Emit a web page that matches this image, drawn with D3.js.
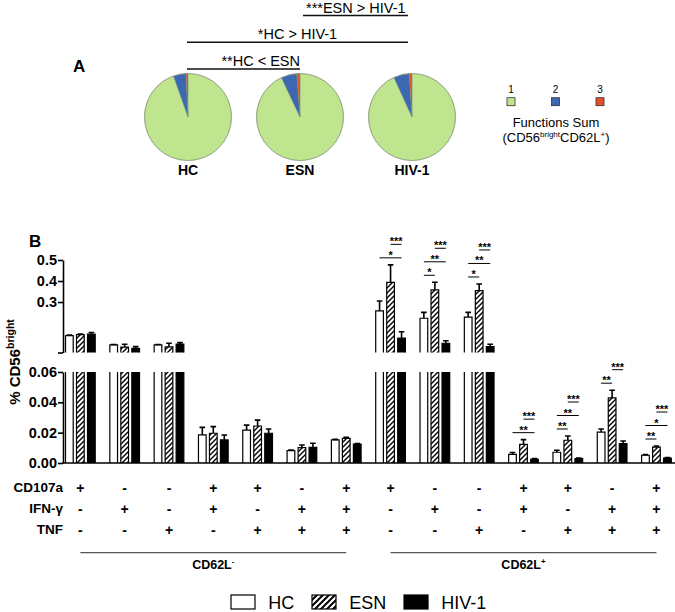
<!DOCTYPE html>
<html>
<head>
<meta charset="utf-8">
<script src="https://cdn.jsdelivr.net/npm/d3@7"></script>
<style>
  html, body { margin: 0; padding: 0; background: #fff; }
  svg { display: block; }
  text { font-family: "Liberation Sans", Arial, sans-serif; }
</style>
</head>
<body>
<svg id="chart" width="675" height="612"></svg>
<script>
// ---------------- DATA ----------------
// Panel A: function-sum pies
const pieGroups = ["HC", "ESN", "HIV-1"];
const pieFunctions = ["1", "2", "3"];
const pieHC  = [0.946, 0.047, 0.007];
const pieESN = [0.930, 0.058, 0.012];
const pieHIV = [0.932, 0.058, 0.010];
const pieComparisons = [
  { a: "HC",  b: "ESN",   label: "**HC < ESN" },
  { a: "HC",  b: "HIV-1", label: "*HC > HIV-1" },
  { a: "ESN", b: "HIV-1", label: "***ESN > HIV-1" }
];

// Panel B: categories (14 combinations)
const subsets = ["CD62L-","CD62L-","CD62L-","CD62L-","CD62L-","CD62L-","CD62L-",
                 "CD62L+","CD62L+","CD62L+","CD62L+","CD62L+","CD62L+","CD62L+"];
const rowLabels = ["CD107a", "IFN-γ", "TNF"];
const cd107a = ["+","-","-","+","+","-","+","+","-","-","+","+","-","+"];
const ifng   = ["-","+","-","+","-","+","+","-","+","-","+","-","+","+"];
const tnf    = ["-","-","+","-","+","+","+","-","-","+","-","+","+","+"];
const series = ["HC", "ESN", "HIV-1"];

const hcValues  = [0.140, 0.096, 0.096, 0.0185, 0.0217, 0.0081, 0.0152, 0.258, 0.223, 0.228, 0.0057, 0.0071, 0.0204, 0.0051];
const esnValues = [0.145, 0.086, 0.087, 0.0196, 0.0244, 0.0101, 0.0163, 0.394, 0.358, 0.354, 0.0123, 0.0150, 0.0429, 0.0105];
const hivValues = [0.147, 0.080, 0.100, 0.0152, 0.0196, 0.0103, 0.0125, 0.128, 0.104, 0.088, 0.0024, 0.0029, 0.0128, 0.0033];
const hcSem  = [0.003, 0.002, 0.002, 0.0050, 0.0033, 0.0004, 0.0004, 0.047, 0.028, 0.023, 0.0012, 0.0013, 0.0020, 0.0004];
const esnSem = [0.003, 0.013, 0.017, 0.0044, 0.0039, 0.0018, 0.0007, 0.083, 0.036, 0.032, 0.0031, 0.0028, 0.0051, 0.0007];
const hivSem = [0.008, 0.008, 0.007, 0.0033, 0.0028, 0.0027, 0.0003, 0.031, 0.012, 0.011, 0.0005, 0.0004, 0.0017, 0.0003];

const upperTicks = [0.3, 0.4, 0.5];
const lowerTicks = [0.00, 0.02, 0.04, 0.06];

// significance comparisons: [group index, series a, series b, label], bottom to top
const sigMarks = [
  [7, "HC", "HIV-1", "*"],  [7, "ESN", "HIV-1", "***"],
  [8, "HC", "ESN", "*"],    [8, "HC", "HIV-1", "**"],  [8, "ESN", "HIV-1", "***"],
  [9, "HC", "ESN", "*"],    [9, "HC", "HIV-1", "**"],  [9, "ESN", "HIV-1", "***"],
  [10, "HC", "HIV-1", "**"],[10, "ESN", "HIV-1", "***"],
  [11, "HC", "ESN", "**"],  [11, "HC", "HIV-1", "**"], [11, "ESN", "HIV-1", "***"],
  [12, "HC", "ESN", "**"],  [12, "ESN", "HIV-1", "***"],
  [13, "HC", "ESN", "**"],  [13, "HC", "HIV-1", "*"],  [13, "ESN", "HIV-1", "***"]
];

// ---------------- DRAWING ----------------
const svg = d3.select("#chart");
svg.append("rect").attr("width", 675).attr("height", 612).attr("fill", "#fff");

const defs = svg.append("defs");
function hatch(id, size, sw) {
  const p = defs.append("pattern").attr("id", id).attr("patternUnits", "userSpaceOnUse")
    .attr("width", size).attr("height", size);
  p.append("rect").attr("width", size).attr("height", size).attr("fill", "#fff");
  p.append("path")
    .attr("d", `M${-size/2},${size/2} L${size/2},${-size/2} M0,${size} L${size},0 M${size/2},${size*1.5} L${size*1.5},${size/2}`)
    .attr("stroke", "#000").attr("stroke-width", sw);
}
hatch("hatch", 5, 1.4);
hatch("hatchLegend", 6, 2);

const FONT = '"Liberation Sans", Arial, sans-serif';

// ===== Panel A =====
const pieColors = d3.scaleOrdinal().domain(pieFunctions).range(["#bfe68f", "#3c67b1", "#e5502a"]);
const pieX = d3.scalePoint().domain(pieGroups).range([188, 412]);
const pieY = 117;
const pieR = 43.5;
const pieData = { "HC": pieHC, "ESN": pieESN, "HIV-1": pieHIV };
const pieGen = d3.pie().sort(null).value(d => d.v);
const arcGen = d3.arc().innerRadius(0).outerRadius(pieR);

svg.append("text").attr("x", 73).attr("y", 72).attr("font-size", 17).attr("font-weight", "bold").text("A");

pieGroups.forEach(g => {
  const gg = svg.append("g").attr("transform", `translate(${pieX(g)},${pieY})`);
  const arcs = pieGen(pieFunctions.map((f, i) => ({ f, v: pieData[g][i] })));
  gg.selectAll("path").data(arcs).join("path")
    .attr("d", arcGen).attr("fill", d => pieColors(d.data.f))
    .attr("stroke", "#7f8f70").attr("stroke-width", 0.4);
  gg.append("circle").attr("r", pieR).attr("fill", "none").attr("stroke", "#8a9a7e").attr("stroke-width", 0.7);
  svg.append("text").attr("x", pieX(g)).attr("y", 175).attr("text-anchor", "middle")
    .attr("font-size", 14).attr("font-weight", "bold").text(g);
});

// pie comparison lines
const compLineY = [69, 42.3, 15.5];
const compAnchor = ["end", "middle", "start"];
pieComparisons.forEach((c, i) => {
  const x2 = pieX(c.b) - (c.b === "HIV-1" ? 4 : 0);
  const xs = c.a === "ESN" ? pieX(c.a) + 3 : pieX(c.a) - 1;
  svg.append("line").attr("x1", xs).attr("x2", x2).attr("y1", compLineY[i]).attr("y2", compLineY[i])
    .attr("stroke", "#111").attr("stroke-width", 1.4);
  const tx = compAnchor[i] === "end" ? x2 : compAnchor[i] === "start" ? xs + 3 : (xs + x2) / 2;
  svg.append("text").attr("x", tx).attr("y", compLineY[i] - 3).attr("text-anchor", compAnchor[i])
    .attr("font-size", 14.5).text(c.label);
});

// pie legend
const legX = d3.scalePoint().domain(pieFunctions).range([511, 600]);
pieFunctions.forEach(f => {
  svg.append("text").attr("x", legX(f)).attr("y", 93).attr("text-anchor", "middle").attr("font-size", 10).text(f);
  svg.append("rect").attr("x", legX(f) - 4).attr("y", 97.7).attr("width", 8).attr("height", 8)
    .attr("fill", pieColors(f)).attr("stroke", "#333").attr("stroke-width", 0.8);
});
svg.append("text").attr("x", 556).attr("y", 127).attr("text-anchor", "middle").attr("font-size", 13).text("Functions Sum");
const fsub = svg.append("text").attr("x", 556).attr("y", 141.5).attr("text-anchor", "middle").attr("font-size", 13);
fsub.append("tspan").text("(CD56");
fsub.append("tspan").attr("font-size", 8).attr("dy", -5).text("bright");
fsub.append("tspan").attr("dy", 5).text("CD62L");
fsub.append("tspan").attr("font-size", 8).attr("dy", -5).text("+");
fsub.append("tspan").attr("dy", 5).text(")");

// ===== Panel B =====
svg.append("text").attr("x", 29).attr("y", 247).attr("font-size", 17).attr("font-weight", "bold").text("B");

const BREAK = 0.06;
const yUp = d3.scaleLinear().domain([BREAK, 0.5]).range([352.5, 260]);
const yLo = d3.scaleLinear().domain([0, BREAK]).range([463, 372]);
const x0 = d3.scaleBand().domain(d3.range(subsets.length)).range([63.3, 673.5]).paddingInner(0.33).paddingOuter(0.05);
const x1 = d3.scaleBand().domain(series).range([0, x0.bandwidth()]).paddingInner(0.3);

const valuesBy = { "HC": hcValues, "ESN": esnValues, "HIV-1": hivValues };
const semBy = { "HC": hcSem, "ESN": esnSem, "HIV-1": hivSem };
const fillBy = { "HC": "#fff", "ESN": "url(#hatch)", "HIV-1": "#000" };
const yOf = v => v > BREAK ? yUp(v) : yLo(v);

const bars = svg.append("g");
subsets.forEach((s, gi) => {
  series.forEach(se => {
    const v = valuesBy[se][gi];
    const x = x0(gi) + x1(se), w = x1.bandwidth();
    const vl = Math.min(v, BREAK);
    const yt = yLo(vl), yb = yLo(0);
    bars.append("rect").attr("x", x).attr("y", yt).attr("width", w).attr("height", yb - yt).attr("fill", fillBy[se]);
    bars.append("path")
      .attr("d", v > BREAK ? `M${x},${yb}V${yt}M${x + w},${yt}V${yb}` : `M${x},${yb}V${yt}H${x + w}V${yb}`)
      .attr("fill", "none").attr("stroke", "#000").attr("stroke-width", 1.2);
    if (v > BREAK) {
      const ut = yUp(v), ub = yUp(BREAK);
      bars.append("rect").attr("x", x).attr("y", ut).attr("width", w).attr("height", ub - ut).attr("fill", fillBy[se]);
      bars.append("path").attr("d", `M${x},${ub}V${ut}H${x + w}V${ub}`)
        .attr("fill", "none").attr("stroke", "#000").attr("stroke-width", 1.2);
    }
    // error bar (upper)
    const e = v + semBy[se][gi];
    const cx = x + w / 2;
    bars.append("path").attr("d", `M${cx},${yOf(v)}V${yOf(e)}M${cx - 2.8},${yOf(e)}H${cx + 2.8}`)
      .attr("fill", "none").attr("stroke", "#000").attr("stroke-width", 1.6);
  });
});

// axes
function styleAxis(g) {
  g.select(".domain").attr("stroke-width", 1.6);
  g.selectAll(".tick line").attr("stroke-width", 1.6);
  g.selectAll(".tick text").attr("font-size", 14.5).attr("font-weight", "bold").attr("font-family", FONT).attr("fill", "#000");
}
const axU = svg.append("g").attr("transform", "translate(63,0)")
  .call(d3.axisLeft(yUp).tickValues([BREAK].concat(upperTicks)).tickFormat(d => d === BREAK ? "" : d3.format(".1f")(d))
    .tickSize(5).tickSizeOuter(0).tickPadding(1));
styleAxis(axU);
const axL = svg.append("g").attr("transform", "translate(63,0)")
  .call(d3.axisLeft(yLo).tickValues(lowerTicks).tickFormat(d3.format(".2f")).tickSize(5).tickSizeOuter(0).tickPadding(1));
styleAxis(axL);
const axX = svg.append("g").attr("transform", `translate(0,${yLo(0)})`)
  .call(d3.axisBottom(x0).tickValues([]).tickSizeOuter(0));
axX.select(".domain").attr("stroke-width", 1.6).attr("d", `M62.2,0H675`);

// y title
const yt = svg.append("text").attr("transform", "translate(20,362) rotate(-90)").attr("text-anchor", "middle")
  .attr("font-size", 15).attr("font-weight", "bold");
yt.append("tspan").text("% CD56");
yt.append("tspan").attr("font-size", 10.5).attr("dy", -6).text("bright");

// significance marks
const levelCount = {};
sigMarks.forEach(([gi, a, b, label]) => {
  const topVal = d3.max(series, se => valuesBy[se][gi] + semBy[se][gi]);
  const lvl = levelCount[gi] || 0;
  levelCount[gi] = lvl + 1;
  const y = yOf(topVal) - 7 - lvl * 13.5;
  const xa = x0(gi) + x1(a) + x1.bandwidth() / 2;
  const xb = x0(gi) + x1(b) + x1.bandwidth() / 2;
  svg.append("line").attr("x1", xa).attr("x2", xb).attr("y1", y).attr("y2", y).attr("stroke", "#000").attr("stroke-width", 1);
  svg.append("text").attr("x", (xa + xb) / 2).attr("y", y + 1).attr("text-anchor", "middle")
    .attr("font-size", 11).attr("font-weight", "bold").text(label);
});

// combination table
const rowY = d3.scaleBand().domain(rowLabels).range([477, 540]);
const rows = [cd107a, ifng, tnf];
rowLabels.forEach((r, ri) => {
  const yc = rowY(r) + rowY.bandwidth() / 2;
  svg.append("text").attr("x", 63).attr("y", yc).attr("dy", "0.36em").attr("text-anchor", "end")
    .attr("font-size", 13.5).attr("font-weight", "bold").text(r);
  rows[ri].forEach((s, gi) => {
    svg.append("text").attr("x", x0(gi) + x0.bandwidth() / 2).attr("y", yc).attr("dy", "0.36em")
      .attr("text-anchor", "middle").attr("font-size", 14).attr("font-weight", "bold").text(s);
  });
});

// subset brackets
const subsetNames = Array.from(new Set(subsets));
subsetNames.forEach(sn => {
  const idx = d3.range(subsets.length).filter(i => subsets[i] === sn);
  const xa = x0(idx[0]) + x0.bandwidth() / 2, xb = x0(idx[idx.length - 1]) + x0.bandwidth() / 2;
  svg.append("line").attr("x1", xa).attr("x2", xb).attr("y1", 552.7).attr("y2", 552.7)
    .attr("stroke", "#555").attr("stroke-width", 1.3);
  const t = svg.append("text").attr("x", (xa + xb) / 2).attr("y", 568.5).attr("text-anchor", "middle")
    .attr("font-size", 12.5).attr("font-weight", "bold");
  t.append("tspan").text(sn.slice(0, 5));
  t.append("tspan").attr("font-size", 8).attr("dy", -5).text(sn.slice(5) === "-" ? "-" : "+");
});

// bottom legend
const legFill = { "HC": "#fff", "ESN": "url(#hatchLegend)", "HIV-1": "#000" };
let lx = 231;
series.forEach(se => {
  svg.append("rect").attr("x", lx).attr("y", 595).attr("width", 24).attr("height", 14)
    .attr("fill", legFill[se]).attr("stroke", "#000").attr("stroke-width", 1.2);
  const t = svg.append("text").attr("x", lx + 37.3).attr("y", 609).attr("font-size", 18).text(se);
  const w = t.node().getComputedTextLength();
  lx = lx + 37.3 + w + 17.7;
});
</script>
</body>
</html>
